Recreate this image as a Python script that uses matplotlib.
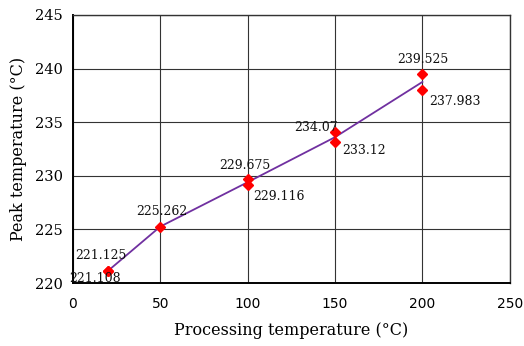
import matplotlib.pyplot as plt

# measured peak temperatures at each processing temperature
proc_temp = [20, 20, 50, 100, 100, 150, 150, 200, 200]
peak_temp = [221.125, 221.108, 225.262, 229.675, 229.116, 234.07, 233.12, 239.525, 237.983]

# trend line through the mean peak at each processing temperature
trend_x = [20, 50, 100, 150, 200]
trend_y = [221.12, 225.26, 229.40, 233.60, 238.75]

x_ticks = [0, 50, 100, 150, 200, 250]
y_ticks = [220, 225, 230, 235, 240, 245]

# label offsets (points) and alignment for each value label
label_pos = [
    ((-5, 11), "center"),
    ((-9, -5), "center"),
    ((1, 11), "center"),
    ((-2, 10), "center"),
    ((4, -8), "left"),
    ((2, 3), "right"),
    ((5, -6), "left"),
    ((0, 10), "center"),
    ((5, -8), "left"),
]

serif = ["DejaVu Serif"]

fig = plt.figure(figsize=(5.24, 3.46), dpi=100)
ax = fig.add_axes([0.139, 0.182, 0.834, 0.775])

ax.plot(trend_x, trend_y, color="#7030a0", linewidth=1.3, zorder=2)
ax.plot(proc_temp, peak_temp, linestyle="none", marker="D", markersize=5,
        color="#ff0000", zorder=3)

for x, y, (offset, ha) in zip(proc_temp, peak_temp, label_pos):
    ax.annotate(f"{y:g}", (x, y), xytext=offset, textcoords="offset points",
                ha=ha, va="center", fontsize=9, family=serif, color="#111111")

ax.set_xlim(0, 250)
ax.set_ylim(220, 245)
ax.set_xticks(x_ticks)
ax.set_yticks(y_ticks)
ax.grid(True, color="#333333", linewidth=0.8)
ax.set_axisbelow(True)
for side in ["top", "right", "bottom", "left"]:
    ax.spines[side].set_color("#333333")
    ax.spines[side].set_linewidth(1.0)
ax.spines["left"].set_color("black")
ax.spines["bottom"].set_color("black")
ax.spines["left"].set_linewidth(1.4)
ax.spines["bottom"].set_linewidth(1.4)

ax.tick_params(axis="x", length=0, pad=10)
ax.tick_params(axis="y", length=0, pad=7)
for lab in ax.get_xticklabels():
    lab.set_family("DejaVu Sans")
    lab.set_fontsize(10)
for lab in ax.get_yticklabels():
    lab.set_family(serif)
    lab.set_fontsize(10.5)

ax.set_xlabel("Processing temperature (°C)", family=serif, fontsize=11.5, labelpad=8)
ax.set_ylabel("Peak temperature (°C)", family=serif, fontsize=11.5, labelpad=6)

fig.savefig("out.png", dpi=100)
